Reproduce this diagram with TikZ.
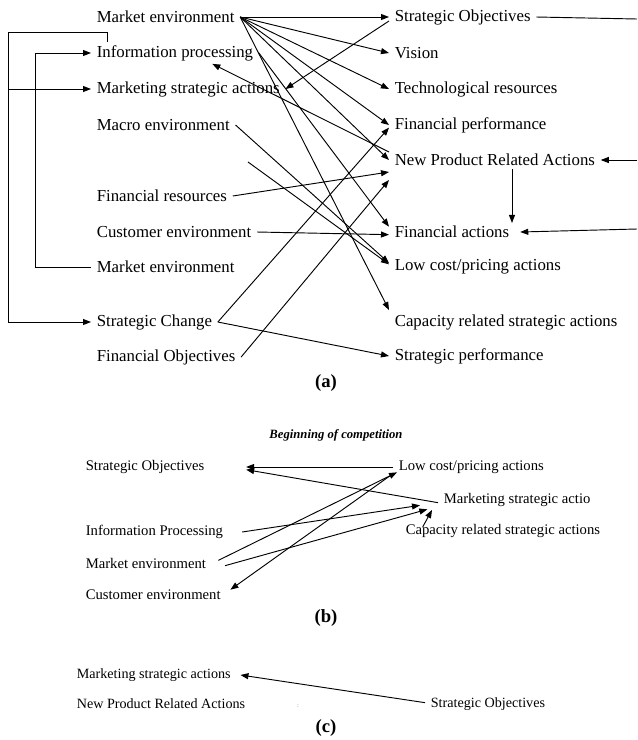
\documentclass[tikz,border=0pt]{standalone}
\usepackage{fontspec}
\setmainfont{Liberation Serif}
\usetikzlibrary{arrows.meta}

\begin{document}
\begin{tikzpicture}[
    x=0.75pt, y=-0.75pt,
    ->, >={Triangle[length=6pt,width=4.5pt]},
    line width=0.7pt,
    every node/.style={anchor=west, inner xsep=4pt, inner ysep=2pt},
    big/.style={font=\fontsize{12.6}{14}\selectfont},
    mid/.style={font=\fontsize{11}{13}\selectfont},
    sml/.style={font=\fontsize{10.6}{12}\selectfont},
    tag/.style={anchor=center, font=\fontsize{14}{16}\selectfont\bfseries}
]
    \useasboundingbox[-] (0,0) rectangle (637,740);

    % (a) left column
    \node[big] (me1)    at (91,17)  {Market environment};
    \node[big] (ip)     at (91,53)  {Information processing};
    \node[big] (msa)    at (91,89)  {Marketing strategic actions};
    \node[big] (macro)  at (91,125) {Macro environment};
    \node[big] (finres) at (91,196) {Financial resources};
    \node[big] (cust)   at (91,232) {Customer environment};
    \node[big] (me2)    at (91,267) {Market environment};
    \node[big] (sc)     at (91,322) {Strategic Change};
    \node[big] (fo)     at (91,357) {Financial Objectives};

    % (a) right column
    \node[big] (so)     at (389,17)  {Strategic Objectives};
    \node[big] (vis)    at (389,53)  {Vision};
    \node[big] (tech)   at (389,89)  {Technological resources};
    \node[big] (fp)     at (389,125) {Financial performance};
    \node[big] (npra)   at (389,160) {New Product Related Actions};
    \node[big] (fa)     at (389,232) {Financial actions};
    \node[big] (lc)     at (389,267) {Low cost/pricing actions};
    \node[big] (cap)    at (389,322) {Capacity related strategic actions};
    \node[big] (sp)     at (389,356) {Strategic performance};

    \coordinate (lb1)    at (8,32);
    \coordinate (lb2)    at (35,0);
    \coordinate (loose)  at (248,162);
    \coordinate (drop)   at (512,0);
    \coordinate (soexit) at (637,19);
    \coordinate (npin)   at (637,160);
    \coordinate (fain)   at (637,229);

    \path (me1.east) edge (so.west)
                     edge (vis.west)
                     edge (tech.west)
                     edge (fp.west)
                     edge (npra.west)
                     edge ([yshift=9pt]cap.west);
    \path ([yshift=-3pt]so.west) edge (msa.east)
          ([yshift=6pt]npra.west) edge ([xshift=28pt]ip.south)
          (ip.east) edge ([yshift=4pt]fa.west)
          (macro.east) edge ([yshift=3pt]lc.west)
          (loose) edge ([yshift=2pt]lc.west)
          (finres.east) edge ([yshift=-9pt]npra.west)
          (cust.east) edge ([yshift=-2pt]fa.west)
          (sc.east) edge ([yshift=-2pt]fp.west)
          (sc.east) edge (sp.west)
          (fo.east) edge ([yshift=-15pt]npra.west);

    % feedback loops
    \draw ([xshift=12pt]ip.north west) |- (lb1) |- (sc.west);
    \draw (lb1 |- msa.west) -- (msa.west);
    \draw (me2.west) -- (me2.west -| lb2) |- (ip.west);
    \draw[-] (so.east) -- (soexit);
    \path (npin) edge (npra.east)
          (fain) edge ([xshift=4pt]fa.east);
    \draw (drop |- npra.south) -- (drop |- fa.north);

    \node[tag] (taga) at (326,383) {(a)};

    % (b)
    \node[anchor=center, font=\fontsize{9.5}{11}\selectfont\bfseries\itshape] (title) at (336,435) {Beginning of competition};
    \node[mid] (sob)  at (80,467)  {Strategic Objectives};
    \node[mid] (ipb)  at (80,532)  {Information Processing};
    \node[mid] (meb)  at (80,563)  {Market environment};
    \node[mid] (ceb)  at (80,595)  {Customer environment};
    \node[mid] (lcb)  at (393,467) {Low cost/pricing actions};
    \node[mid] (msab) at (438,500) {Marketing strategic actio};
    \node[mid] (capb) at (400,531) {Capacity related strategic actions};

    \path (lcb.west) edge ([xshift=27pt]sob.east)
          ([yshift=-2pt]msab.west) edge ([xshift=27pt,yshift=-2pt]sob.east)
          ([xshift=10pt]ipb.east) edge ([xshift=-13.5pt,yshift=-4pt]msab.west)
          ([xshift=5pt,yshift=2pt]meb.east) edge ([xshift=3pt,yshift=-4pt]lcb.west)
          ([xshift=10pt,yshift=-2pt]meb.east) edge ([xshift=-8pt,yshift=-7pt]msab.west)
          ([yshift=-5pt]lcb.west) edge ([xshift=3pt,yshift=4pt]ceb.east)
          ([xshift=17pt,yshift=3pt]capb.west) edge ([xshift=-4.5pt,yshift=-7.5pt]msab.west);

    \node[tag] (tagb) at (326,618) {(b)};

    % (c)
    \node[sml] (msac)  at (71,675)  {Marketing strategic actions};
    \node[sml] (nprac) at (71,704)  {New Product Related Actions};
    \node[sml] (soc)   at (425,704) {Strategic Objectives};
    \node[anchor=center, font=\tiny, text=gray] (speck) at (298,706) {:};

    \path ([yshift=1pt]soc.west) edge ([xshift=3pt]msac.east);

    \node[tag] (tagc) at (326,728) {(c)};
\end{tikzpicture}
\end{document}
